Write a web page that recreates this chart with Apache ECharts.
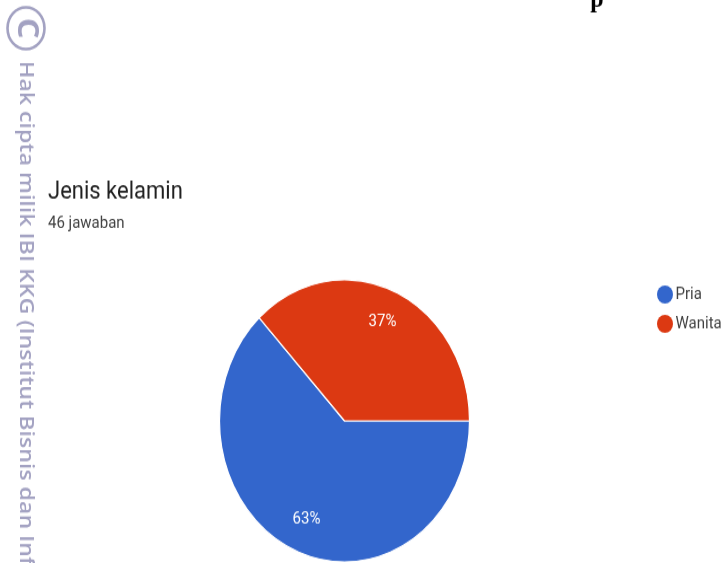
<!DOCTYPE html>
<html>
<head>
<meta charset="utf-8">
<style>
  html, body { margin: 0; padding: 0; background: #fff; overflow: hidden; }
  #frame { width: 728px; height: 563px; overflow: hidden; }
  /* The scan is taller than it is wide, so the whole sheet is stretched vertically. */
  #chart { width: 728px; height: 499px; transform: scaleY(1.1283); transform-origin: 0 0; }
</style>
<script src="https://cdn.jsdelivr.net/npm/echarts@6/dist/echarts.min.js"></script>
</head>
<body>
<div id="frame"><div id="chart"></div></div>
<script>
const categories = ['Pria', 'Wanita'];
const responses = [29, 17];
const sliceColors = ['#3366cc', '#dc3912'];
const titleText = 'Jenis kelamin';
const subtitleText = '46 jawaban';
const marginText = 'Hak cipta milik IBI KKG (Institut Bisnis dan Informatika Kwik Kian Gie)';

const stampColor = '#a3a2c2';
const radius = 125;
const total = responses.reduce((a, b) => a + b, 0);

// Pushes a slice label outward along the slice's middle angle.
function labelOffset(index) {
  const before = responses.slice(0, index).reduce((a, b) => a + b, 0);
  const mid = (before + responses[index] / 2) / total * 2 * Math.PI;
  const extra = radius * 0.24;
  return { dx: Math.cos(mid) * extra, dy: Math.sin(mid) * extra };
}

const chart = echarts.init(document.getElementById('chart'));
chart.setOption({
  animation: false,
  backgroundColor: '#fff',
  color: sliceColors,
  title: [
    { text: titleText, left: 43, top: 154,
      textStyle: { fontFamily: 'Roboto', fontWeight: 400, fontSize: 22, color: '#212121' } },
    { text: subtitleText, left: 43, top: 186,
      textStyle: { fontFamily: 'Roboto', fontWeight: 400, fontSize: 15, color: '#424242' } }
  ],
  legend: {
    orient: 'vertical',
    left: 652,
    top: 248,
    icon: 'circle',
    itemWidth: 17,
    itemHeight: 16,
    itemGap: 10,
    itemStyle: { borderWidth: 0 },
    textStyle: { fontFamily: 'Roboto', fontSize: 15, color: '#424242', padding: [0, 0, 0, -3] },
    data: categories
  },
  series: [{
    type: 'pie',
    center: [344.5, 373],
    radius: radius,
    startAngle: 0,
    clockwise: true,
    percentPrecision: 0,
    itemStyle: { borderColor: '#fff', borderWidth: 1.2 },
    emphasis: { disabled: true },
    label: {
      position: 'inside',
      formatter: '{d}%',
      fontFamily: 'Roboto',
      fontSize: 15,
      color: '#fff'
    },
    labelLayout: params => labelOffset(params.dataIndex),
    labelLine: { show: false },
    data: categories.map((name, i) => ({ name, value: responses[i] }))
  }],
  graphic: [
    // Copyright stamp and running text along the left margin.
    { type: 'circle', shape: { cx: 26, cy: 25, r: 18.5 },
      style: { fill: 'none', stroke: stampColor, lineWidth: 2.6 } },
    { type: 'text', x: 26, y: 25, rotation: -Math.PI / 2,
      style: { text: 'C', font: '700 29px "Open Sans"', fill: stampColor, align: 'center', verticalAlign: 'middle' } },
    { type: 'text', x: 26, y: 54, rotation: -Math.PI / 2,
      style: { text: marginText, font: '600 20.5px "Open Sans"', fill: stampColor, align: 'left', verticalAlign: 'middle' } },
    // Descender of the heading cut off by the top of the page.
    { type: 'text', x: 597, y: -12,
      style: { text: 'p', font: '700 24px "Liberation Serif"', fill: '#000', align: 'center', verticalAlign: 'top' } }
  ]
});
</script>
</body>
</html>
